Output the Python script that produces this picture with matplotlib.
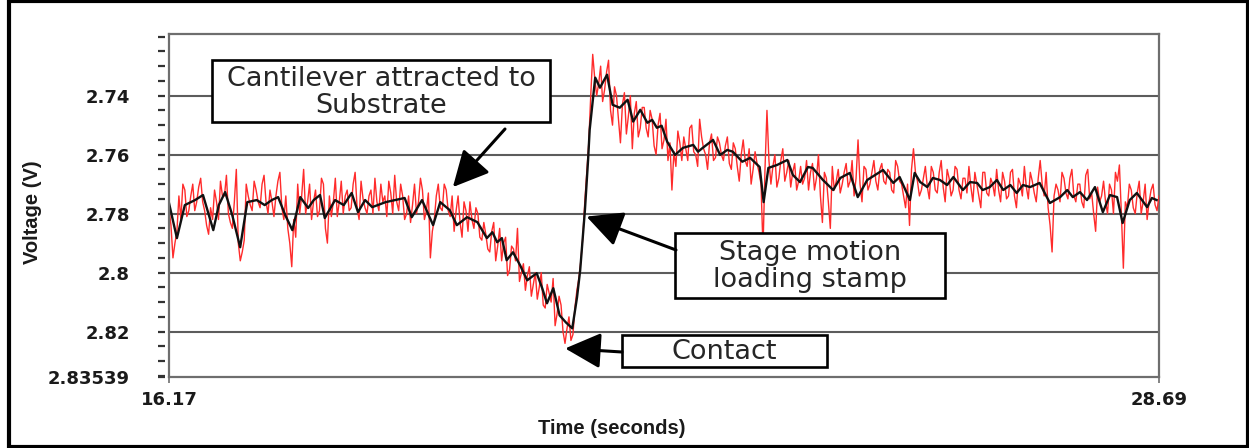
import numpy as np
import matplotlib
matplotlib.use("Agg")
import matplotlib.pyplot as plt
from matplotlib.patches import Rectangle

# ---------------- data ----------------
t_start, t_end = 16.17, 28.69
y_top, y_bottom = 2.7191, 2.83539
y_major = [2.74, 2.76, 2.78, 2.80, 2.82, 2.83539]
y_major_labels = ["2.74", "2.76", "2.78", "2.8", "2.82", "2.83539"]
x_ticks = [16.17, 28.69]
x_tick_labels = ["16.17", "28.69"]

# smoothed (black) trace
black_t = [16.17, 16.27, 16.37, 16.50, 16.60, 16.73, 16.80, 16.88, 16.97, 17.07,
           17.16, 17.28, 17.38, 17.47, 17.55, 17.64, 17.73, 17.83, 17.93, 18.00,
           18.08, 18.14, 18.27, 18.38, 18.48, 18.56, 18.65, 18.74, 18.81, 18.91,
           19.03, 19.15, 19.24, 19.37, 19.51, 19.60, 19.72, 19.81, 19.94, 20.07,
           20.19, 20.26, 20.32, 20.38, 20.44, 20.52, 20.61, 20.70, 20.82, 20.89,
           20.95, 21.03, 21.11, 21.19, 21.27, 21.33, 21.37, 21.39, 21.43, 21.47,
           21.49, 21.53, 21.56, 21.62, 21.71, 21.78, 21.87, 21.97, 22.04, 22.13,
           22.22, 22.28, 22.34, 22.40, 22.47, 22.57, 22.67, 22.80, 22.86, 22.92,
           23.05, 23.14, 23.23, 23.30, 23.42, 23.52, 23.64, 23.69, 23.75, 23.86,
           23.99, 24.06, 24.15, 24.25, 24.31, 24.44, 24.57, 24.66, 24.78, 24.88,
           25.00, 25.10, 25.20, 25.33, 25.41, 25.54, 25.60, 25.67, 25.76, 25.83,
           25.92, 26.01, 26.09, 26.21, 26.30, 26.39, 26.46, 26.55, 26.64, 26.72,
           26.81, 26.89, 26.97, 27.06, 27.18, 27.31, 27.44, 27.53, 27.60, 27.69,
           27.78, 27.88, 27.98, 28.07, 28.16, 28.23, 28.32, 28.41, 28.54, 28.60,
           28.66]
black_v = [2.7764, 2.7883, 2.7771, 2.7754, 2.7737, 2.7856, 2.7771, 2.7727, 2.7805, 2.7914,
           2.7761, 2.7754, 2.7771, 2.7754, 2.7744, 2.7805, 2.7856, 2.7744, 2.7781, 2.7754,
           2.7737, 2.7815, 2.7754, 2.7771, 2.7730, 2.7795, 2.7754, 2.7778, 2.7771, 2.7761,
           2.7754, 2.7747, 2.7812, 2.7754, 2.7839, 2.7761, 2.7788, 2.7839, 2.7812, 2.7829,
           2.7883, 2.7863, 2.7897, 2.7883, 2.7958, 2.7931, 2.7975, 2.8026, 2.8002, 2.8053,
           2.8104, 2.8053, 2.8145, 2.8169, 2.8189, 2.8084, 2.7992, 2.7924, 2.7788, 2.7618,
           2.7516, 2.7414, 2.7339, 2.7373, 2.7329, 2.7431, 2.7441, 2.7414, 2.7488, 2.7448,
           2.7492, 2.7482, 2.7509, 2.7502, 2.7556, 2.7601, 2.7577, 2.7567, 2.7590, 2.7577,
           2.7550, 2.7601, 2.7584, 2.7590, 2.7624, 2.7611, 2.7642, 2.7761, 2.7645, 2.7635,
           2.7618, 2.7669, 2.7693, 2.7642, 2.7645, 2.7686, 2.7720, 2.7679, 2.7662, 2.7744,
           2.7686, 2.7669, 2.7652, 2.7696, 2.7676, 2.7754, 2.7662, 2.7693, 2.7710, 2.7679,
           2.7686, 2.7703, 2.7676, 2.7720, 2.7693, 2.7696, 2.7720, 2.7710, 2.7686, 2.7720,
           2.7703, 2.7730, 2.7703, 2.7710, 2.7696, 2.7764, 2.7744, 2.7720, 2.7744, 2.7727,
           2.7754, 2.7710, 2.7795, 2.7737, 2.7744, 2.7832, 2.7754, 2.7730, 2.7778, 2.7747,
           2.7754]

# raw (red) trace: samples on the even grid points ...
red_v_a = [2.7780, 2.7950, 2.7860, 2.7820, 2.7720, 2.7790, 2.7700, 2.7760, 2.7680, 2.7790,
           2.7870, 2.7820, 2.7760, 2.7690, 2.7740, 2.7800, 2.7850, 2.7650, 2.7960, 2.7890,
           2.7740, 2.7790, 2.7720, 2.7780, 2.7670, 2.7800, 2.7760, 2.7740, 2.7660, 2.7820,
           2.7850, 2.7980, 2.7880, 2.7800, 2.7650, 2.7760, 2.7820, 2.7720, 2.7790, 2.7700,
           2.7900, 2.7810, 2.7680, 2.7760, 2.7800, 2.7720, 2.7780, 2.7660, 2.7820, 2.7750,
           2.7800, 2.7720, 2.7680, 2.7790, 2.7760, 2.7810, 2.7730, 2.7670, 2.7790, 2.7740,
           2.7800, 2.7830, 2.7700, 2.7760, 2.7720, 2.7790, 2.7950, 2.7820, 2.7700, 2.7790,
           2.7720, 2.7810, 2.7860, 2.7740, 2.7880, 2.7790, 2.7760, 2.7850, 2.7800, 2.7890,
           2.7870, 2.7930, 2.7830, 2.7910, 2.7960, 2.7880, 2.7990, 2.7920, 2.7850, 2.8000,
           2.8060, 2.7980, 2.8040, 2.8090, 2.8000, 2.8120, 2.8070, 2.8020, 2.8140, 2.8110,
           2.8240, 2.8150, 2.8210, 2.8060, 2.7960, 2.7760, 2.7560, 2.7260, 2.7400, 2.7300,
           2.7380, 2.7280, 2.7500, 2.7400, 2.7560, 2.7390, 2.7470, 2.7580, 2.7420, 2.7510,
           2.7440, 2.7540, 2.7480, 2.7600, 2.7460, 2.7550, 2.7620, 2.7720, 2.7640, 2.7560,
           2.7540, 2.7620, 2.7500, 2.7600, 2.7480, 2.7580, 2.7650, 2.7530, 2.7610, 2.7560,
           2.7620, 2.7540, 2.7650, 2.7580, 2.7690, 2.7550, 2.7640, 2.7700, 2.7590, 2.7660,
           2.7920, 2.7450, 2.7700, 2.7600, 2.7680, 2.7580, 2.7660, 2.7710, 2.7630, 2.7690,
           2.7700, 2.7620, 2.7660, 2.7720, 2.7600, 2.7830, 2.7680, 2.7850, 2.7720, 2.7650,
           2.7700, 2.7630, 2.7690, 2.7740, 2.7550, 2.7760, 2.7650, 2.7700, 2.7620, 2.7720,
           2.7630, 2.7700, 2.7660, 2.7730, 2.7640, 2.7700, 2.7780, 2.7840, 2.7580, 2.7690,
           2.7720, 2.7640, 2.7750, 2.7660, 2.7730, 2.7620, 2.7760, 2.7680, 2.7720, 2.7650,
           2.7750, 2.7680, 2.7640, 2.7760, 2.7700, 2.7780, 2.7660, 2.7740, 2.7700, 2.7650,
           2.7760, 2.7690, 2.7740, 2.7650, 2.7780, 2.7700, 2.7640, 2.7750, 2.7690, 2.7760,
           2.7620, 2.7740, 2.7780, 2.7930, 2.7700, 2.7760, 2.7680, 2.7750, 2.7650, 2.7760,
           2.7700, 2.7780, 2.7650, 2.7730, 2.7860, 2.7760, 2.7690, 2.7800, 2.7720, 2.7660,
           2.7635, 2.7985, 2.7780, 2.7720, 2.7800, 2.7690, 2.7760, 2.7820, 2.7720, 2.7770,
           2.7740]
# ... and the samples that fall half-way between them
red_v_b = [2.7840, 2.7900, 2.7740, 2.7700, 2.7810, 2.7740, 2.7790, 2.7710, 2.7760, 2.7840,
           2.7780, 2.7720, 2.7820, 2.7740, 2.7670, 2.7830, 2.7760, 2.7900, 2.7930, 2.7700,
           2.7770, 2.7690, 2.7760, 2.7700, 2.7760, 2.7720, 2.7810, 2.7690, 2.7780, 2.7740,
           2.7900, 2.7820, 2.7700, 2.7740, 2.7800, 2.7700, 2.7760, 2.7810, 2.7680, 2.7850,
           2.7740, 2.7760, 2.7810, 2.7690, 2.7740, 2.7790, 2.7700, 2.7780, 2.7690, 2.7780,
           2.7740, 2.7800, 2.7760, 2.7700, 2.7740, 2.7690, 2.7800, 2.7760, 2.7700, 2.7820,
           2.7740, 2.7770, 2.7800, 2.7680, 2.7820, 2.7730, 2.7860, 2.7740, 2.7780, 2.7700,
           2.7790, 2.7740, 2.7790, 2.7830, 2.7760, 2.7860, 2.7820, 2.7780, 2.7880, 2.7830,
           2.7920, 2.7860, 2.7960, 2.7850, 2.7900, 2.8010, 2.7910, 2.7960, 2.8030, 2.7970,
           2.8010, 2.8080, 2.8000, 2.8050, 2.8110, 2.8040, 2.8100, 2.8180, 2.8080, 2.8200,
           2.8190, 2.8230, 2.8120, 2.8020, 2.7880, 2.7660, 2.7400, 2.7340, 2.7360, 2.7420,
           2.7320, 2.7450, 2.7370, 2.7480, 2.7430, 2.7530, 2.7400, 2.7460, 2.7540, 2.7440,
           2.7510, 2.7450, 2.7570, 2.7500, 2.7580, 2.7480, 2.7560, 2.7590, 2.7520, 2.7620,
           2.7580, 2.7510, 2.7590, 2.7640, 2.7540, 2.7600, 2.7560, 2.7620, 2.7540, 2.7600,
           2.7570, 2.7630, 2.7560, 2.7640, 2.7600, 2.7620, 2.7580, 2.7650, 2.7630, 2.7700,
           2.7650, 2.7620, 2.7640, 2.7710, 2.7620, 2.7690, 2.7620, 2.7660, 2.7720, 2.7640,
           2.7680, 2.7720, 2.7630, 2.7680, 2.7740, 2.7660, 2.7760, 2.7640, 2.7690, 2.7730,
           2.7660, 2.7710, 2.7620, 2.7680, 2.7700, 2.7640, 2.7720, 2.7660, 2.7690, 2.7650,
           2.7690, 2.7650, 2.7720, 2.7620, 2.7690, 2.7740, 2.7700, 2.7650, 2.7660, 2.7740,
           2.7680, 2.7710, 2.7640, 2.7720, 2.7660, 2.7710, 2.7650, 2.7740, 2.7640, 2.7720,
           2.7680, 2.7730, 2.7710, 2.7660, 2.7740, 2.7660, 2.7730, 2.7680, 2.7740, 2.7720,
           2.7660, 2.7750, 2.7660, 2.7740, 2.7680, 2.7740, 2.7710, 2.7660, 2.7730, 2.7680,
           2.7700, 2.7660, 2.7840, 2.7740, 2.7720, 2.7660, 2.7730, 2.7680, 2.7740, 2.7700,
           2.7760, 2.7670, 2.7750, 2.7800, 2.7710, 2.7740, 2.7760, 2.7700, 2.7800, 2.7690,
           2.7800, 2.7760, 2.7700, 2.7780, 2.7730, 2.7800, 2.7700, 2.7760, 2.7700, 2.7790]

red_v = []
for a, b in zip(red_v_a, red_v_b):
    red_v += [a, b]
red_v.append(red_v_a[-1])
red_t = np.linspace(t_start, t_end, len(red_v))

# annotation targets (data coordinates)
ann_texts = ["Cantilever attracted to\nSubstrate", "Stage motion\nloading stamp", "Contact"]
ann_targets = [(19.76, 2.7710), (21.45, 2.7810), (21.18, 2.8257)]

# ---------------- figure ----------------
W, H = 1249, 448
fig = plt.figure(figsize=(W / 100, H / 100), dpi=100)
L, R, T, B = 169, 1159, 34, 377
ax = fig.add_axes([L / W, 1 - B / H, (R - L) / W, (B - T) / H])

def px(x, y):
    """pixel position -> axes fraction"""
    return ((x - L) / (R - L), (B - y) / (B - T))

ax.set_xlim(t_start, t_end)
ax.set_ylim(y_bottom, y_top)

frame_c = "#6e6e6e"
grid_c = "#5c5c5c"

ax.plot(red_t, red_v, color="#ff2b2b", lw=1.0, zorder=3)
ax.plot(black_t, black_v, color="#111111", lw=1.7, zorder=4)

# axes styling
ax.set_yticks(y_major)
ax.set_yticklabels(y_major_labels)
ax.set_yticks(np.arange(2.72, 2.8354, 0.005), minor=True)
ax.set_xticks(x_ticks)
ax.set_xticklabels(x_tick_labels)

for sp in ["top", "right", "bottom"]:
    ax.spines[sp].set_color(frame_c)
    ax.spines[sp].set_linewidth(1.6)
ax.spines["left"].set_position(("outward", 3))
ax.spines["left"].set_visible(False)
ax.plot([0, 0], [0, 1], transform=ax.transAxes, color=frame_c, lw=1.6,
        clip_on=False, zorder=5)

ax.tick_params(axis="y", which="both", direction="out", length=5, width=1.6,
               color="#333333", pad=20)
ax.tick_params(axis="x", which="major", direction="out", length=4, width=1.2,
               color=frame_c, pad=6)
for lab in ax.get_yticklabels() + ax.get_xticklabels():
    lab.set_fontfamily("DejaVu Sans")
    lab.set_fontweight("bold")
    lab.set_fontsize(13)
    lab.set_color("#1a1a1a")

for yv in y_major[:-1]:
    ax.axhline(yv, color=grid_c, lw=1.5, zorder=1)

ax.set_xlabel("Time (seconds)", fontfamily="Liberation Sans", fontweight="bold",
              fontsize=14.5, color="#1a1a1a")
ax.xaxis.set_label_coords(0.4475, -0.122)
ax.set_ylabel("Voltage (V)", fontfamily="Liberation Sans", fontweight="bold",
              fontsize=14.5, color="#1a1a1a")
ax.yaxis.set_label_coords(-0.128, 0.481)

# annotation boxes (pixel layout -> axes fraction)
boxes = [(212, 60, 550, 122), (675, 233, 945, 298), (622, 335, 827, 367)]
starts = [(505, 129), (676, 250), (622, 352)]
for (x0, y0, x1, y1), txt, tgt, st in zip(boxes, ann_texts, ann_targets, starts):
    ax0, ay0 = px(x0, y1)
    ax1, ay1 = px(x1, y0)
    ax.add_patch(Rectangle((ax0, ay0), ax1 - ax0, ay1 - ay0, transform=ax.transAxes,
                           facecolor="white", edgecolor="black", lw=1.9, zorder=6,
                           clip_on=False))
    cx, cy = px((x0 + x1) / 2, (y0 + y1) / 2 + 1)
    ax.text(cx, cy, txt, transform=ax.transAxes, ha="center", va="center",
            fontsize=19.5, fontfamily="DejaVu Sans", color="#262626",
            linespacing=1.05, zorder=7)
    ax.annotate("", xy=tgt, xycoords="data", xytext=px(*st), textcoords="axes fraction",
                arrowprops=dict(arrowstyle="-|>,head_length=1.1,head_width=0.55",
                                mutation_scale=20, lw=2.2, color="black",
                                shrinkA=0, shrinkB=0),
                zorder=8, annotation_clip=False)

# outer frame
fig.patches.append(Rectangle((9 / W, 1.5 / H), (1247.5 - 9) / W, (446.5 - 1.5) / H,
                             transform=fig.transFigure, fill=False,
                             edgecolor="black", lw=3))

fig.savefig("out.png", dpi=100)
